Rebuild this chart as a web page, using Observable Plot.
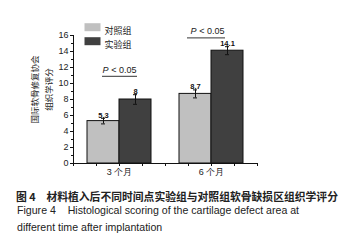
<!DOCTYPE html>
<html>
<head>
<meta charset="utf-8">
<script src="https://cdn.jsdelivr.net/npm/d3@7"></script>
<script src="https://cdn.jsdelivr.net/npm/@observablehq/plot@0.6"></script>
<style>
  html, body { margin: 0; padding: 0; background: #fff; }
  body { width: 347px; height: 241px; position: relative; overflow: hidden; }
  #chart { position: absolute; left: 0; top: 0; }
  .cap { position: absolute; left: 17px; white-space: pre; color: #222; line-height: 14px; }
  .cap-zh { top: 189px; font-family: "Noto Sans CJK SC", sans-serif; font-weight: bold; font-size: 10.8px; left: 16px; }
  .cap-en { font-family: "Liberation Sans", Arial, sans-serif; font-size: 10.6px; }
</style>
</head>
<body>
<div id="chart"></div>
<div class="cap cap-zh">图 4　材料植入后不同时间点实验组与对照组软骨缺损区组织学评分</div>
<div class="cap cap-en" style="top:203px">Figure 4    Histological scoring of the cartilage defect area at</div>
<div class="cap cap-en" style="top:220px">different time after implantation</div>
<script>
// ---- data ----
const timepoints = ["3 个月", "6 个月"];
const groups = ["对照组", "实验组"];
const controlValues = [5.3, 8.7];
const controlErrors = [0.35, 0.5];
const experimentValues = [8, 14.1];
const experimentErrors = [0.6, 0.5];
const valueLabels = [["5.3", "8.7"], ["8", "14.1"]];
const sigText = ["P < 0.05", "P < 0.05"];
const sigLineY = [10.9, 15.7];
const sigTextY = [11.35, 16.15];
const yTicks = [0, 2, 4, 6, 8, 10, 12, 14, 16];
const yMinorTicks = [1, 3, 5, 7, 9, 11, 13, 15];
const yTitle = ["国际软骨修复协会", "组织学评分"];
const colors = ["#c0c0c0", "#404040"];

// build table
const rows = [];
timepoints.forEach((t, i) => {
  rows.push({t, g: groups[0], v: controlValues[i], e: controlErrors[i], label: valueLabels[0][i]});
  rows.push({t, g: groups[1], v: experimentValues[i], e: experimentErrors[i], label: valueLabels[1][i]});
});
const sig = timepoints.map((t, i) => ({t, text: sigText[i], ly: sigLineY[i], ty: sigTextY[i]}));
const firstFacet = [{t: timepoints[0]}];
const lastFacet = [{t: timepoints[timepoints.length - 1]}];

const font = "Liberation Sans, Arial, sans-serif";
const swatch = { draw(ctx, size) { ctx.moveTo(-8, -4); ctx.lineTo(8, -4); ctx.lineTo(8, 4); ctx.lineTo(-8, 4); ctx.closePath(); } };

// x-axis tick positions relative to band centers (control center = facet left + 30)
const xTickOffsets = [-30, -7, 16, 39];

const marks = [
  Plot.barY(rows, {fx: "t", x: "g", y: "v", fill: (d) => colors[groups.indexOf(d.g)], stroke: "#111", strokeWidth: 1}),
  Plot.ruleX(rows, {fx: "t", x: "g", y1: (d) => d.v - d.e, y2: (d) => d.v + d.e, stroke: "#111", strokeWidth: 1}),
  Plot.tickY(rows, {fx: "t", x: "g", y: (d) => d.v + d.e, stroke: "#111", insetLeft: 14, insetRight: 14}),
  Plot.tickY(rows, {fx: "t", x: "g", y: (d) => d.v - d.e, stroke: "#111", insetLeft: 14, insetRight: 14}),
  Plot.text(rows, {fx: "t", x: "g", y: (d) => d.v + d.e, text: "label", lineAnchor: "bottom", dy: -0.5, fontSize: 7.5, fontWeight: "bold", fill: "#111"}),
  // significance
  Plot.ruleY(sig.slice(0, 1), {fx: "t", y: "ly", insetLeft: 29, insetRight: 28, stroke: "#333"}),
  Plot.ruleY(sig.slice(1, 2), {fx: "t", y: "ly", insetLeft: 22, insetRight: 32, stroke: "#333"}),
  Plot.text(sig.slice(0, 1), {fx: "t", y: "ty", text: "text", lineAnchor: "bottom", fontSize: 9, fill: "#222", className: "sig"}),
  Plot.text(sig.slice(1, 2), {fx: "t", y: "ty", text: "text", lineAnchor: "bottom", dx: -4, fontSize: 9, fill: "#222", className: "sig"}),
  // axes lines
  Plot.ruleY([0], {stroke: "#111"}),
  Plot.ruleX(firstFacet, {fx: "t", x: () => groups[0], y1: 0, y2: yTicks[yTicks.length - 1], dx: -30, stroke: "#111"}),
  ...xTickOffsets.map((o) => Plot.ruleX(timepoints.map((t) => ({t})), {fx: "t", x: () => groups[0], y1: 0, y2: 0, insetBottom: -3, dx: o, stroke: "#111"})),
  Plot.ruleX(lastFacet, {fx: "t", x: () => groups[1], y1: 0, y2: 0, insetBottom: -3, dx: 30, stroke: "#111"}),
  Plot.axisY(yTicks, {tickSize: 3, tickPadding: 2, fontSize: 9, stroke: "#111", fill: "#222"}),
  Plot.axisY(yMinorTicks, {tickSize: 2, tickFormat: () => "", stroke: "#111"}),
  Plot.axisFx({anchor: "bottom", tickSize: 0, fontSize: 9, tickPadding: 5, fill: "#222", label: null}),
  // y title
  Plot.text(firstFacet, {fx: "t", text: () => yTitle[0], frameAnchor: "left", textAnchor: "middle", rotate: -90, dx: -38, dy: -10, fontSize: 8.5, fontFamily: "Noto Sans CJK SC", fill: "#222"}),
  Plot.text(firstFacet, {fx: "t", text: () => yTitle[1], frameAnchor: "left", textAnchor: "middle", rotate: -90, dx: -24, dy: -10, fontSize: 8.5, fontFamily: "Noto Sans CJK SC", fill: "#222"}),
  // legend
  ...groups.map((g, i) => Plot.dot(firstFacet, {fx: "t", frameAnchor: "top-left", dx: 19, dy: -8.3 + 14 * i, symbol: swatch, fill: colors[i], stroke: "none", r: 4})),
  ...groups.map((g, i) => Plot.text(firstFacet, {fx: "t", text: () => g, frameAnchor: "top-left", textAnchor: "start", dx: 31, dy: -8.3 + 14 * i, fontSize: 9, fontFamily: "Noto Sans CJK SC", fill: "#222"}))
];

const chart = Plot.plot({
  width: 347,
  height: 186,
  marginLeft: 73,
  marginRight: 90,
  marginTop: 35,
  marginBottom: 23,
  style: {fontFamily: font, background: "#fff", color: "#222", overflow: "visible"},
  fx: {domain: timepoints, padding: 0, label: null},
  x: {domain: groups, paddingInner: 0, paddingOuter: 0.4375, axis: null},
  y: {domain: [0, 16], axis: null},
  marks
});
document.getElementById("chart").appendChild(chart);

// italic P in significance labels
d3.select(chart).selectAll("g.sig text").each(function () {
  const s = this.textContent;
  if (s.startsWith("P")) {
    this.textContent = "";
    d3.select(this).append("tspan").attr("font-style", "italic").text("P");
    d3.select(this).append("tspan").text(s.slice(1));
  }
});
</script>
</body>
</html>
